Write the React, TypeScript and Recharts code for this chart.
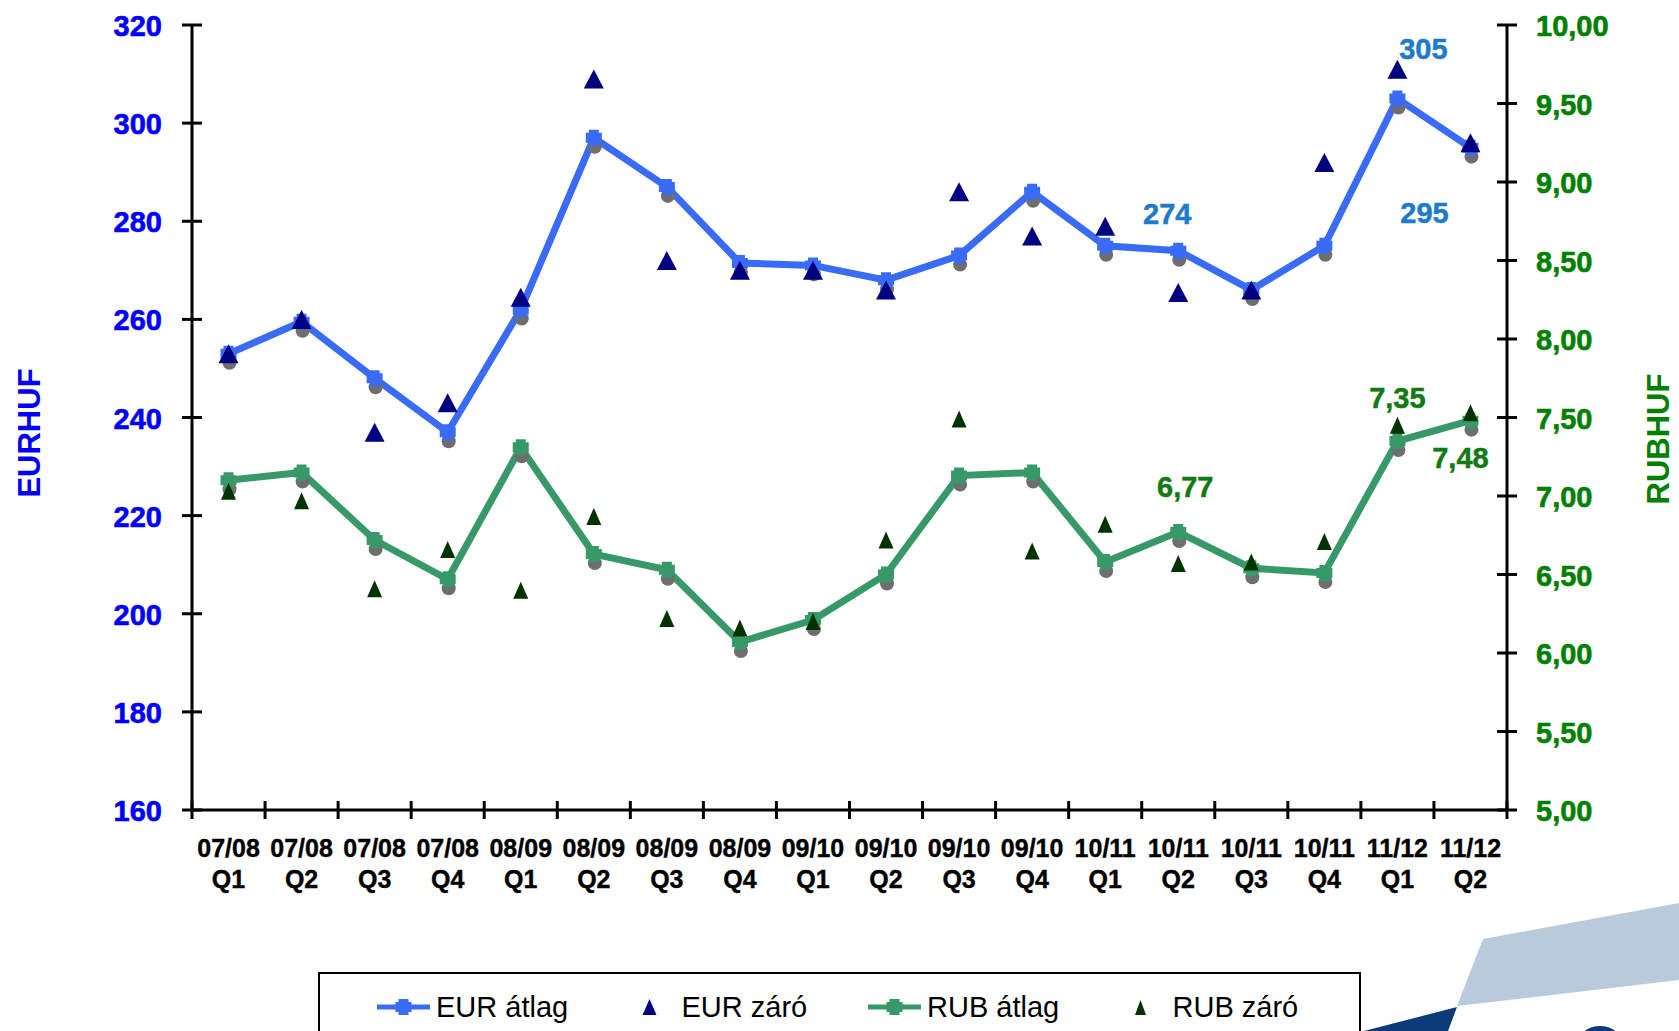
import React from "react";
import { ComposedChart, Line, XAxis, YAxis, LabelList } from "recharts";

// negyedéves időszakok
const periods = [
    "07/08 Q1", "07/08 Q2", "07/08 Q3", "07/08 Q4",
    "08/09 Q1", "08/09 Q2", "08/09 Q3", "08/09 Q4",
    "09/10 Q1", "09/10 Q2", "09/10 Q3", "09/10 Q4",
    "10/11 Q1", "10/11 Q2", "10/11 Q3", "10/11 Q4",
    "11/12 Q1", "11/12 Q2",
];

const eurAvg = [253, 259.5, 248, 237, 262, 297, 287, 271.5, 271, 268, 273, 286, 275, 274, 266, 275, 305, 295];
const eurClose = [253, 260, 237, 243, 264.5, 309, 272, 270, 270, 266, 286, 277, 279, 265.5, 266, 292, 311, 296];
const rubAvg = [7.1, 7.15, 6.72, 6.47, 7.31, 6.63, 6.53, 6.07, 6.21, 6.5, 7.13, 7.15, 6.58, 6.77, 6.54, 6.51, 7.35, 7.48];
const rubClose = [7.03, 6.97, 6.41, 6.66, 6.4, 6.87, 6.22, 6.16, 6.2, 6.72, 7.49, 6.65, 6.82, 6.57, 6.58, 6.71, 7.45, 7.53];

const eurTicks = [160, 180, 200, 220, 240, 260, 280, 300, 320];
const rubTicks = [5, 5.5, 6, 6.5, 7, 7.5, 8, 8.5, 9, 9.5, 10];

// which points get a value label
const eurLabelIdx = [13, 16, 17];
const rubLabelIdx = [13, 16, 17];

const data = periods.map((p, i) => ({
    period: p,
    eurAvg: eurAvg[i],
    eurClose: eurClose[i],
    rubAvg: rubAvg[i],
    rubClose: rubClose[i],
}));

const FONT = '"Liberation Sans", Arial, sans-serif';
const EUR_LINE = "#3A6BF7";
const EUR_TRI = "#000080";
const RUB_LINE = "#389968";
const RUB_TRI = "#003300";
const EUR_AXIS = "#0000FF";
const RUB_AXIS = "#008000";
const EUR_LABEL = "#1E7BCB";
const RUB_LABEL = "#137A13";

const PLOT_LEFT = 192;
const PLOT_RIGHT = 1507;
const BAND = (PLOT_RIGHT - PLOT_LEFT) / periods.length;

const fmt = (v: number, d: number) => v.toFixed(d).replace(".", ",");

// label offsets (text centre relative to the point)
const eurLabelPos: Record<number, [number, number]> = { 13: [-11, -37], 16: [26, -50], 17: [-46, 65] };
const rubLabelPos: Record<number, [number, number]> = { 13: [7, -45], 16: [0, -43], 17: [-10, 37] };

const LeftTick = (props: any) => {
    const { x, y, payload } = props;
    return (
        <g>
            <line x1={x - 10} x2={x + 10} y1={y} y2={y} stroke="#000" strokeWidth={3} />
            <text x={x - 30} y={y + 11} textAnchor="end" fill={EUR_AXIS} stroke={EUR_AXIS} strokeWidth={0.6}
                  fontSize={29} fontWeight="bold" fontFamily={FONT}>{payload.value}</text>
        </g>
    );
};

const RightTick = (props: any) => {
    const { x, y, payload } = props;
    return (
        <g>
            <line x1={x - 10} x2={x + 10} y1={y} y2={y} stroke="#000" strokeWidth={3} />
            <text x={x + 29} y={y + 11} textAnchor="start" fill={RUB_AXIS} stroke={RUB_AXIS} strokeWidth={0.6}
                  fontSize={29} fontWeight="bold" fontFamily={FONT}>{fmt(payload.value, 2)}</text>
        </g>
    );
};

const XTick = (props: any) => {
    const { x, y, payload, index, visibleTicksCount } = props;
    const [yr, q] = String(payload.value).split(" ");
    const last = index === visibleTicksCount - 1;
    return (
        <g>
            <line x1={x - BAND / 2} x2={x - BAND / 2} y1={y - 9} y2={y + 9} stroke="#000" strokeWidth={3} />
            {last && <line x1={x + BAND / 2} x2={x + BAND / 2} y1={y - 9} y2={y + 9} stroke="#000" strokeWidth={3} />}
            <text x={x} y={y + 47} textAnchor="middle" fill="#000" stroke="#000" strokeWidth={0.4}
                  fontSize={25} fontWeight="bold" fontFamily={FONT}>{yr}</text>
            <text x={x} y={y + 78} textAnchor="middle" fill="#000" stroke="#000" strokeWidth={0.4}
                  fontSize={25} fontWeight="bold" fontFamily={FONT}>{q}</text>
        </g>
    );
};

const axisTitle = (text: string, x: number, y: number, color: string) => () => (
    <text x={x} y={y} transform={`rotate(-90 ${x} ${y})`} textAnchor="middle" dominantBaseline="central"
          fill={color} fontSize={31} fontWeight="bold" fontFamily={FONT}>{text}</text>
);

const shadowDot = (props: any) => {
    const { cx, cy, index } = props;
    if (cx == null || cy == null) return <g key={index} />;
    return <circle key={index} cx={cx + 1} cy={cy + 9} r={7} fill="#6E6E6E" />;
};

const plusDot = (color: string) => (props: any) => {
    const { cx, cy, index } = props;
    if (cx == null || cy == null) return <g key={index} />;
    const d = `M${cx - 5},${cy - 8} h10 v3 h3 v10 h-3 v3 h-10 v-3 h-3 v-10 h3 z`;
    return <path key={index} d={d} fill={color} />;
};

const triDot = (color: string, w: number, h: number) => (props: any) => {
    const { cx, cy, index } = props;
    if (cx == null || cy == null) return <g key={index} />;
    const d = `M${cx},${cy - h / 2} L${cx + w / 2},${cy + h / 2} L${cx - w / 2},${cy + h / 2} Z`;
    return <path key={index} d={d} fill={color} />;
};

const valueLabel = (idx: number[], pos: Record<number, [number, number]>, color: string, digits: number) =>
    (props: any) => {
        const { x, y, value, index } = props;
        if (!idx.includes(index)) return null;
        const [dx, dy] = pos[index];
        return (
            <text x={x + dx} y={y + dy + 10} textAnchor="middle" fill={color} stroke={color} strokeWidth={0.5}
                  fontSize={29} fontWeight="bold" fontFamily={FONT}>{fmt(value, digits)}</text>
        );
    };

const legendItems = [
    { name: "EUR átlag", kind: "line", color: EUR_LINE },
    { name: "EUR záró", kind: "tri", color: EUR_TRI },
    { name: "RUB átlag", kind: "line", color: RUB_LINE },
    { name: "RUB záró", kind: "tri", color: RUB_TRI },
];

const LegendIcon = ({ kind, color }: { kind: string; color: string }) => (
    <svg width={53} height={30}>
        {kind === "line" ? (
            <g>
                <line x1={0} x2={53} y1={15} y2={15} stroke={color} strokeWidth={5} />
                <path d="M21.5,7 h10 v3 h3 v10 h-3 v3 h-10 v-3 h-3 v-10 h3 z" fill={color} />
            </g>
        ) : (
            <path d={color === EUR_TRI ? "M26.5,7 L33.5,23 L19.5,23 Z" : "M26.5,8 L32,23 L21,23 Z"} fill={color} />
        )}
    </svg>
);

const App: React.FC = () => {
    return (
        <div style={{ position: "absolute", left: 0, top: 0, width: 1679, height: 1031, overflow: "hidden", background: "#fff" }}>
            <ComposedChart width={1679} height={1031} data={data} margin={{ top: 25, right: 0, bottom: 0, left: 0 }}>
                <XAxis dataKey="period" scale="band" interval={0} height={221} tickSize={0} tickMargin={0}
                       axisLine={{ stroke: "#000", strokeWidth: 3 }} tickLine={false} tick={<XTick />} />
                <YAxis yAxisId="left" orientation="left" width={192} domain={[160, 320]} ticks={eurTicks}
                       interval={0} tickSize={0} tickMargin={0} tickLine={false}
                       axisLine={{ stroke: "#000", strokeWidth: 3 }} tick={<LeftTick />}
                       label={{ content: axisTitle("EURHUF", 29, 433, EUR_AXIS) }} />
                <YAxis yAxisId="right" orientation="right" width={172} domain={[5, 10]} ticks={rubTicks}
                       interval={0} tickSize={0} tickMargin={0} tickLine={false}
                       axisLine={{ stroke: "#000", strokeWidth: 3 }} tick={<RightTick />}
                       label={{ content: axisTitle("RUBHUF", 1658, 439, RUB_AXIS) }} />

                {/* shadows under the average markers */}
                <Line yAxisId="left" dataKey="eurAvg" stroke="none" dot={shadowDot} activeDot={false} isAnimationActive={false} />
                <Line yAxisId="right" dataKey="rubAvg" stroke="none" dot={shadowDot} activeDot={false} isAnimationActive={false} />

                <Line yAxisId="left" dataKey="eurAvg" stroke={EUR_LINE} strokeWidth={7} dot={plusDot(EUR_LINE)}
                      activeDot={false} isAnimationActive={false}>
                    <LabelList dataKey="eurAvg" content={valueLabel(eurLabelIdx, eurLabelPos, EUR_LABEL, 0)} />
                </Line>
                <Line yAxisId="right" dataKey="rubAvg" stroke={RUB_LINE} strokeWidth={7} dot={plusDot(RUB_LINE)}
                      activeDot={false} isAnimationActive={false}>
                    <LabelList dataKey="rubAvg" content={valueLabel(rubLabelIdx, rubLabelPos, RUB_LABEL, 2)} />
                </Line>

                <Line yAxisId="left" dataKey="eurClose" stroke="none" dot={triDot(EUR_TRI, 20, 19)}
                      activeDot={false} isAnimationActive={false} />
                <Line yAxisId="right" dataKey="rubClose" stroke="none" dot={triDot(RUB_TRI, 15, 17)}
                      activeDot={false} isAnimationActive={false} />
            </ComposedChart>

            <div style={{
                position: "absolute", left: 318, top: 972, width: 1043, height: 80, boxSizing: "border-box",
                border: "2px solid #000", background: "#fff", display: "flex", alignItems: "flex-start",
                paddingLeft: 57, paddingTop: 18, fontFamily: FONT, fontSize: 29, color: "#000",
            }}>
                {legendItems.map((it) => (
                    <div key={it.name} style={{ width: 248, display: "flex", alignItems: "center", height: 30 }}>
                        <LegendIcon kind={it.kind} color={it.color} />
                        <span style={{ marginLeft: 6, lineHeight: "30px", whiteSpace: "nowrap" }}>{it.name}</span>
                    </div>
                ))}
            </div>

            <svg width={1679} height={1031} style={{ position: "absolute", left: 0, top: 0, pointerEvents: "none" }}>
                <polygon points="1483,939 1679,903 1679,980 1457,1006" fill="#B9CADC" />
                <polygon points="1364,1031 1457,1007 1448,1031" fill="#0D3B7A" />
                <ellipse cx={1600} cy={1044} rx={22} ry={18} fill="#0D3B7A" />
            </svg>
        </div>
    );
};

export default App;
